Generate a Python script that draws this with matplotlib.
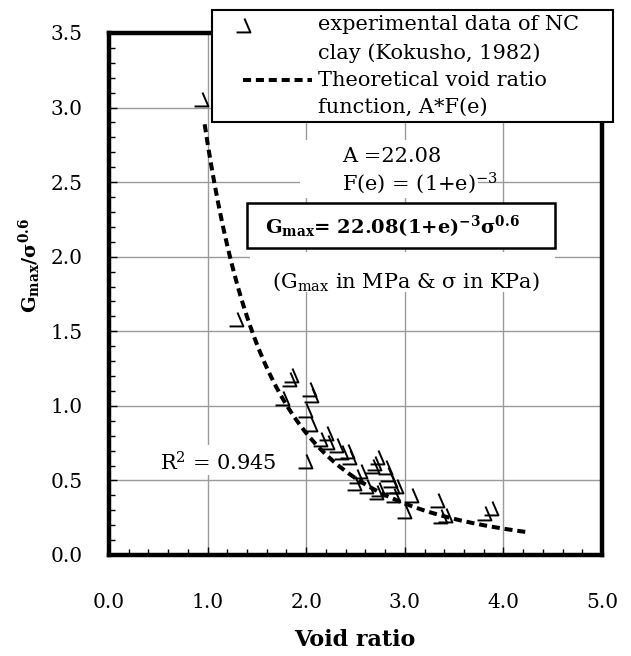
import matplotlib
matplotlib.use("Agg")

import matplotlib.pyplot as plt
from matplotlib.path import Path
from matplotlib.patches import Rectangle
from matplotlib.lines import Line2D
import numpy as np

VOID_RATIO = [0.93, 1.29, 1.85, 1.83, 2.03, 2.05, 1.75, 1.99, 2.04, 1.99,
              2.14, 2.21, 2.30, 2.35, 2.41, 2.43, 2.48, 2.51, 2.61, 2.67,
              2.69, 2.72, 2.71, 2.80, 2.82, 2.85, 2.87, 2.73, 2.88, 2.99,
              3.06, 3.33, 3.36, 3.41, 3.80, 3.87, 2.20, 2.55, 2.91]
G_NORM = [3.06, 1.58, 1.21, 1.18, 1.11, 1.07, 1.05, 0.97, 0.88, 0.63,
          0.78, 0.76, 0.74, 0.69, 0.70, 0.66, 0.48, 0.53, 0.46, 0.60,
          0.62, 0.66, 0.42, 0.59, 0.54, 0.50, 0.46, 0.44, 0.40, 0.295,
          0.40, 0.37, 0.26, 0.27, 0.28, 0.315, 0.82, 0.56, 0.46]

# theoretical void ratio function A*F(e), F(e) = (1+e)^-3
A_FIT = 22.08
F_EXP = -3
E_MIN, E_MAX = 0.97, 4.25

XTICKS = [0.0, 1.0, 2.0, 3.0, 4.0, 5.0]
YTICKS = [0.0, 0.5, 1.0, 1.5, 2.0, 2.5, 3.0, 3.5]

FONT = "DejaVu Serif"
plt.rcParams["font.family"] = FONT
plt.rcParams["mathtext.fontset"] = "dejavuserif"

TXT = 15  # annotation / legend font size

# open "triangle" marker as Excel draws it
MARK = Path([(-0.5, -0.5), (0.5, -0.5), (0.07, 0.5)],
            [Path.MOVETO, Path.LINETO, Path.LINETO])
MARK_KW = dict(marker=MARK, markersize=10, markerfacecolor="none",
               markeredgecolor="black", markeredgewidth=1.4, linestyle="none")
DASH_KW = dict(color="black", linewidth=2.9, linestyle=(0, (2.0, 1.2)))

W, H = 631, 656
fig = plt.figure(figsize=(W / 100, H / 100), dpi=100)
ax = fig.add_axes([109 / W, 1 - 555 / H, 493 / W, 522 / H])

ax.plot(VOID_RATIO, G_NORM, zorder=3, **MARK_KW)
e = np.linspace(E_MIN, E_MAX, 200)
ax.plot(e, A_FIT * (1 + e) ** F_EXP, zorder=4, **DASH_KW)

ax.set_xlim(0, 5)
ax.set_ylim(0, 3.5)
ax.set_xticks(XTICKS)
ax.set_yticks(YTICKS)
ax.set_xticklabels([f"{v:.1f}" for v in XTICKS])
ax.set_yticklabels([f"{v:.1f}" for v in YTICKS])
ax.set_xticks(np.arange(0, 5.01, 0.2), minor=True)
ax.set_yticks(np.arange(0, 3.51, 0.1), minor=True)
ax.tick_params(which="both", direction="in", top=False, right=False,
               labelsize=14.5, colors="black")
ax.tick_params(which="major", length=6, width=1)
ax.tick_params(which="minor", length=4, width=1)
ax.tick_params(axis="x", pad=27)
ax.tick_params(axis="y", pad=19)
ax.grid(True, which="major", color="#9a9a9a", linewidth=1)
ax.set_axisbelow(True)
for sp in ax.spines.values():
    sp.set_linewidth(3.2)

fig.text(355 / W, 1 - 640 / H, "Void ratio", ha="center", va="center",
         fontsize=16, fontweight="bold")
fig.text(30 / W, 1 - 265 / H, r"G$_{\mathbf{max}}$/σ$^{\mathbf{0.6}}$",
         rotation=90, ha="center", va="center", fontsize=14, fontweight="bold")


def white_box(x0, y0, x1, y1, edge="none", lw=0, z=2):
    """White rectangle in pixel coords (top-left origin) hiding the grid."""
    fig.patches.append(Rectangle((x0 / W, 1 - y1 / H), (x1 - x0) / W,
                                 (y1 - y0) / H, transform=fig.transFigure,
                                 facecolor="white", edgecolor=edge,
                                 linewidth=lw, zorder=z))


# annotations
white_box(300, 140, 478, 198)
fig.text(342 / W, 1 - 157 / H, "A =22.08", ha="left", va="center",
         fontsize=TXT, zorder=5)
fig.text(342 / W, 1 - 183 / H, r"F(e) = (1+e)$^{-3}$", ha="left", va="center",
         fontsize=TXT, zorder=5)
white_box(247, 203, 555, 248, edge="black", lw=1.8, z=3)
fig.text(265 / W, 1 - 227 / H,
         r"G$_{\mathbf{max}}$= 22.08(1+e)$^{\mathbf{-3}}$σ$^{\mathbf{0.6}}$",
         ha="left", va="center", fontsize=14, fontweight="bold", zorder=5)
white_box(250, 252, 555, 292)
fig.text(272 / W, 1 - 282 / H, r"(G$_{\mathrm{max}}$ in MPa & σ in KPa)",
         ha="left", va="center", fontsize=TXT, zorder=5)
white_box(150, 445, 290, 475)
fig.text(160 / W, 1 - 463 / H, r"R$^2$ = 0.945", ha="left", va="center",
         fontsize=TXT, zorder=5)

# legend box, drawn over the top-right corner of the frame
white_box(212, 10, 613, 122, edge="black", lw=1.5, z=6)
fig.lines.append(Line2D([243 / W], [1 - 25 / H], transform=fig.transFigure,
                        zorder=7, **MARK_KW))
fig.lines.append(Line2D([243 / W, 312 / W], [1 - 80 / H, 1 - 80 / H],
                        transform=fig.transFigure, zorder=7, **DASH_KW))
for txt, yy in [("experimental data of NC", 25), ("clay (Kokusho, 1982)", 53),
                ("Theoretical void ratio", 80), ("function, A*F(e)", 107)]:
    fig.text(318 / W, 1 - yy / H, txt, ha="left", va="center",
             fontsize=TXT, zorder=8)

fig.savefig("out.png", dpi=100)
